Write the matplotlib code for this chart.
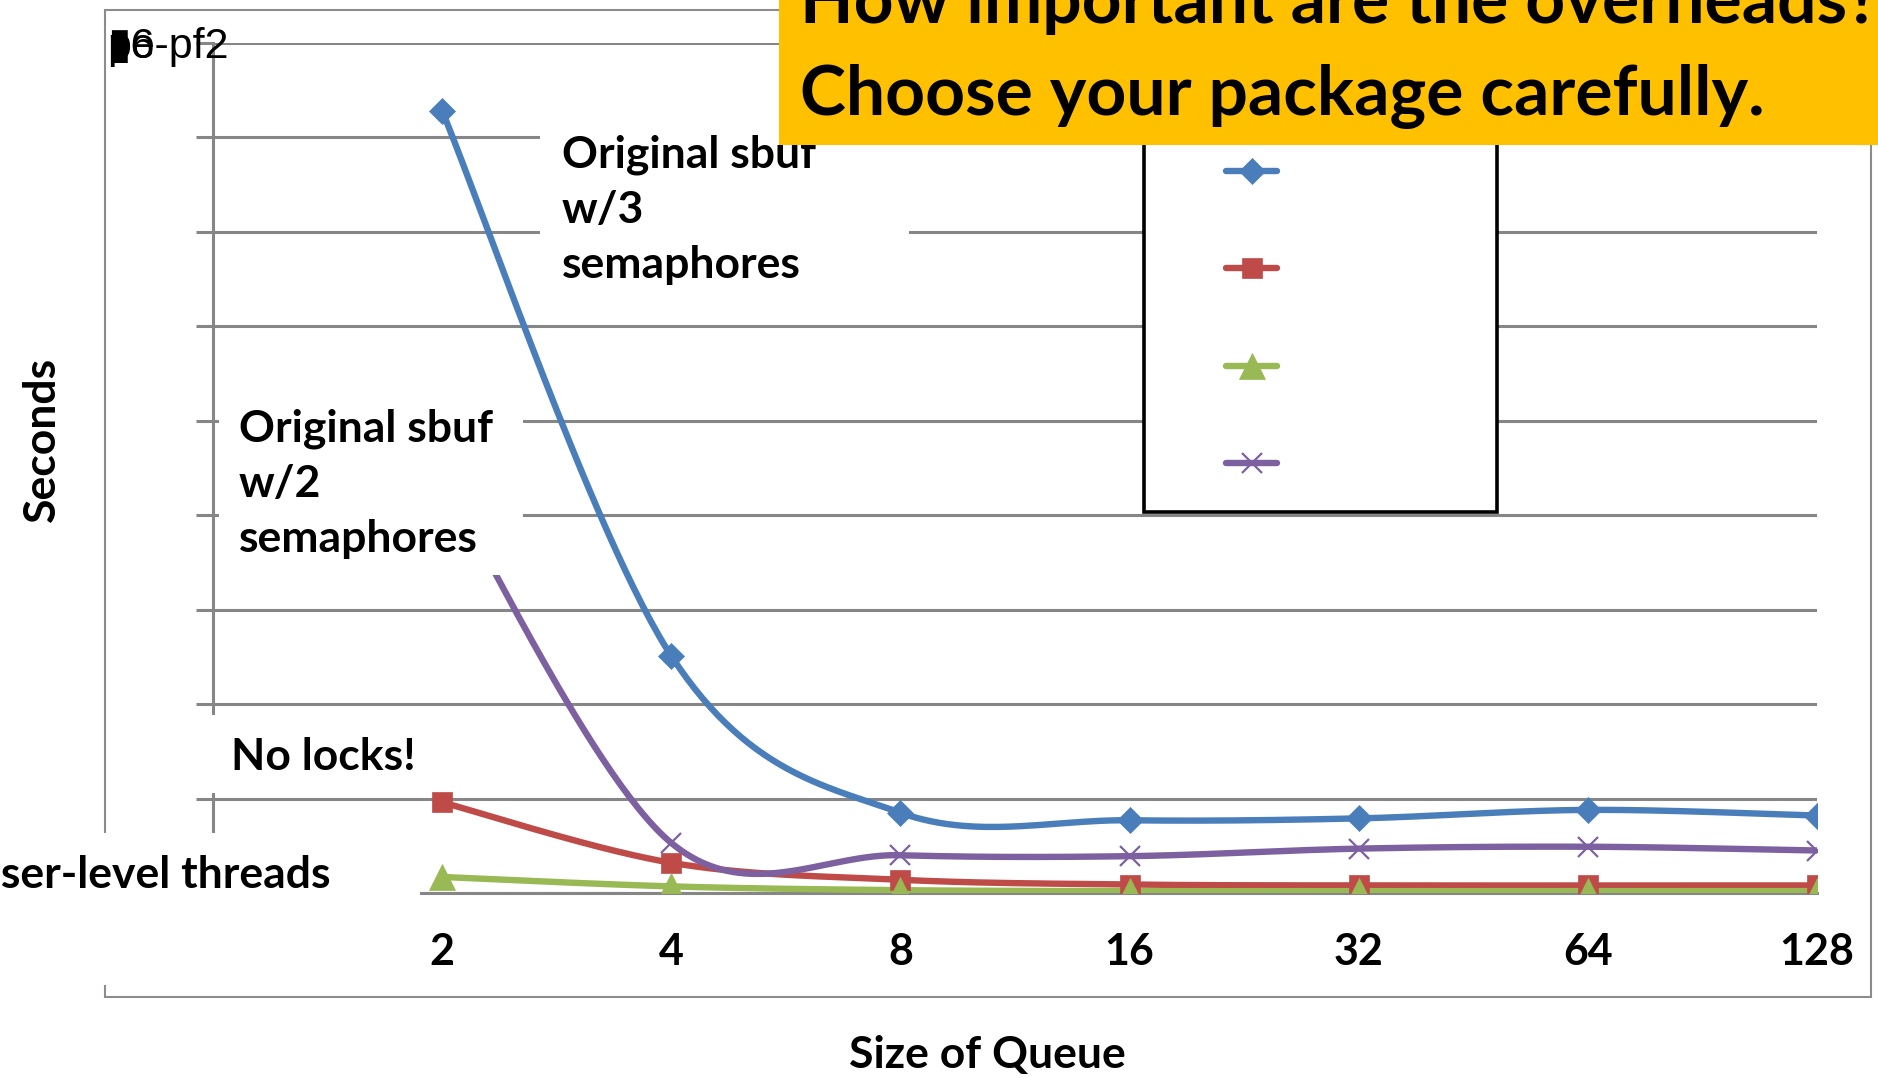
"""Queue size vs. run time for the sbuf variants (slide chart redraw)."""

import matplotlib
matplotlib.use("Agg")
import matplotlib.pyplot as plt
import numpy as np
from matplotlib.lines import Line2D
from matplotlib.patches import Rectangle

# ──────────────────────────────────────────────
# Data (y axis has no printed scale)
# ──────────────────────────────────────────────
queue_sizes = ["2", "4", "8", "16", "32", "64", "128"]
sbuf_3sem = [8.28, 2.51, 0.85, 0.77, 0.79, 0.88, 0.82]
no_locks = [0.96, 0.32, 0.14, 0.09, 0.08, 0.08, 0.08]
user_threads = [0.17, 0.07, 0.03, 0.02, 0.02, 0.02, 0.02]
sbuf_2sem = [4.4, 0.53, 0.40, 0.39, 0.47, 0.49, 0.45]

series_names = [
    "Original sbuf w/3 semaphores",
    "No locks!",
    "User-level threads",
    "Original sbuf w/2 semaphores",
]
series_values = [sbuf_3sem, no_locks, user_threads, sbuf_2sem]

# Styles
COLORS = ["#4A7EBB", "#BE4B48", "#98B954", "#7D60A0"]
MARKERS = ["D", "s", "^", "x"]
MSIZES = [13, 15, 19, 15]
LW = 4.6
GRID = "#868686"
FONT = "Lato"

W, H, DPI = 1878, 1078, 100


def fx(px):
    return px / W


def fy(py):
    return 1 - py / H


def excel_smooth(vals, n=60):
    """Bezier smoothing like Excel's 'smoothed line' option."""
    y = np.asarray(vals, dtype=float)
    x = np.arange(len(y), dtype=float)
    t = np.linspace(0, 1, n)
    xs, ys = [], []
    last = len(y) - 1
    for i in range(last):
        i0, i3 = max(i - 1, 0), min(i + 2, last)
        p0 = np.array([x[i], y[i]])
        p3 = np.array([x[i + 1], y[i + 1]])
        c1 = p0 + (np.array([x[i + 1], y[i + 1]]) - np.array([x[i0], y[i0]])) / 6
        c2 = p3 - (np.array([x[i3], y[i3]]) - np.array([x[i], y[i]])) / 6
        b = ((1 - t) ** 3)[:, None] * p0 + (3 * t * (1 - t) ** 2)[:, None] * c1 \
            + (3 * t ** 2 * (1 - t))[:, None] * c2 + (t ** 3)[:, None] * p3
        xs.append(b[:, 0])
        ys.append(b[:, 1])
    return np.concatenate(xs), np.concatenate(ys)


def mew(mk):
    return 1.6 if mk == "x" else 0.5


fig = plt.figure(figsize=(W / DPI, H / DPI), dpi=DPI)
fig.patch.set_facecolor("white")

ax = fig.add_axes([fx(213), fy(893), fx(1817) - fx(213), fy(43) - fy(893)])
ax.set_xlim(-1, 6)
ax.set_ylim(0, 9)

# grid + axes like the Excel 2007 default look
ax.set_yticks(np.arange(0, 10))
ax.yaxis.grid(True, color=GRID, linewidth=2.2)
ax.set_axisbelow(True)
ax.tick_params(axis="y", length=12, width=2.2, color=GRID, direction="out", labelleft=False)
ax.set_xticks(range(len(queue_sizes)))
ax.set_xticklabels(queue_sizes, fontfamily=FONT, fontweight="bold", fontsize=31)
ax.tick_params(axis="x", length=0, pad=28)
for side in ("top", "right"):
    ax.spines[side].set_visible(False)
for side in ("left", "bottom"):
    ax.spines[side].set_color(GRID)
    ax.spines[side].set_linewidth(2.2)

xs = np.arange(len(queue_sizes))
for name, vals, col, mk, ms in zip(series_names, series_values, COLORS, MARKERS, MSIZES):
    sx, sy = excel_smooth(vals)
    ax.plot(sx, sy, color=col, linewidth=LW, solid_capstyle="round", zorder=3, label=name)
    ax.plot(xs, vals, linestyle="none", marker=mk, markersize=ms, color=col,
            markeredgecolor=col, markeredgewidth=mew(mk), zorder=4)

# outer chart frame
fig.add_artist(Rectangle((fx(105), fy(997)), fx(1871) - fx(105), fy(10) - fy(997),
                         transform=fig.transFigure, fill=False, edgecolor="#8C8C8C",
                         linewidth=1.5, zorder=1))

# white text boxes sitting on top of the chart
for x0, y0, x1, y1 in [(540, 95, 909, 305), (219, 390, 523, 575),
                       (198, 715, 430, 793), (0, 833, 420, 985)]:
    fig.add_artist(Rectangle((fx(x0), fy(y1)), fx(x1) - fx(x0), fy(y0) - fy(y1),
                             transform=fig.transFigure, facecolor="white",
                             edgecolor="none", zorder=2))

txt = dict(fontfamily=FONT, fontweight="bold", fontsize=32, color="black", zorder=3)
# multi-line baseline = baseline of the last line
fig.text(fx(562), fy(278), "Original sbuf\nw/3\nsemaphores", va="baseline",
         linespacing=1.46, **txt)
fig.text(fx(239), fy(552), "Original sbuf\nw/2\nsemaphores", va="baseline",
         linespacing=1.46, **txt)
fig.text(fx(231), fy(770), "No locks!", va="baseline", **txt)
fig.text(fx(330), fy(888), "User-level threads", va="baseline", ha="right", **txt)

fig.text(fx(42), fy(439), "Seconds", rotation=90, ha="center", va="center", **txt)
fig.text(fx(987), fy(1068), "Size of Queue", ha="center", va="baseline", **txt)

# leftover overlapping series-name text in the corner
garble = dict(fontfamily=["Liberation Sans", "DejaVu Sans"], fontsize=31,
              va="baseline", zorder=3)
fig.text(fx(107), fy(58), "\u25AE6-pf2", **garble)
fig.text(fx(107), fy(58), "pe", **garble)

# legend box (its labels are lost on the slide, only the keys remain)
fig.add_artist(Rectangle((fx(1144), fy(512)), fx(1497) - fx(1144), fy(90) - fy(512),
                         transform=fig.transFigure, facecolor="white",
                         edgecolor="black", linewidth=2.6, zorder=4))
for k, (col, mk, ms) in enumerate(zip(COLORS, MARKERS, MSIZES)):
    ky = fy(171 + k * 97.3)
    fig.add_artist(Line2D([fx(1226), fx(1277)], [ky, ky], color=col, linewidth=LW,
                          solid_capstyle="round", transform=fig.transFigure, zorder=5))
    fig.add_artist(Line2D([fx(1252)], [ky], marker=mk, markersize=ms, color=col,
                          markeredgecolor=col, markeredgewidth=mew(mk),
                          linestyle="none", transform=fig.transFigure, zorder=5))

# yellow call-out banner
fig.add_artist(Rectangle((fx(779), fy(145)), fx(1878) - fx(779), fy(0) - fy(145),
                         transform=fig.transFigure, facecolor="#FFC000",
                         edgecolor="none", zorder=6))
banner = dict(fontfamily=FONT, fontweight="bold", fontsize=50, color="black",
              va="baseline", zorder=7)
fig.text(fx(800), fy(23), "How important are the overheads?", **banner)
fig.text(fx(800), fy(115), "Choose your package carefully.", **banner)

fig.savefig("out.png", dpi=DPI)
plt.close(fig)
